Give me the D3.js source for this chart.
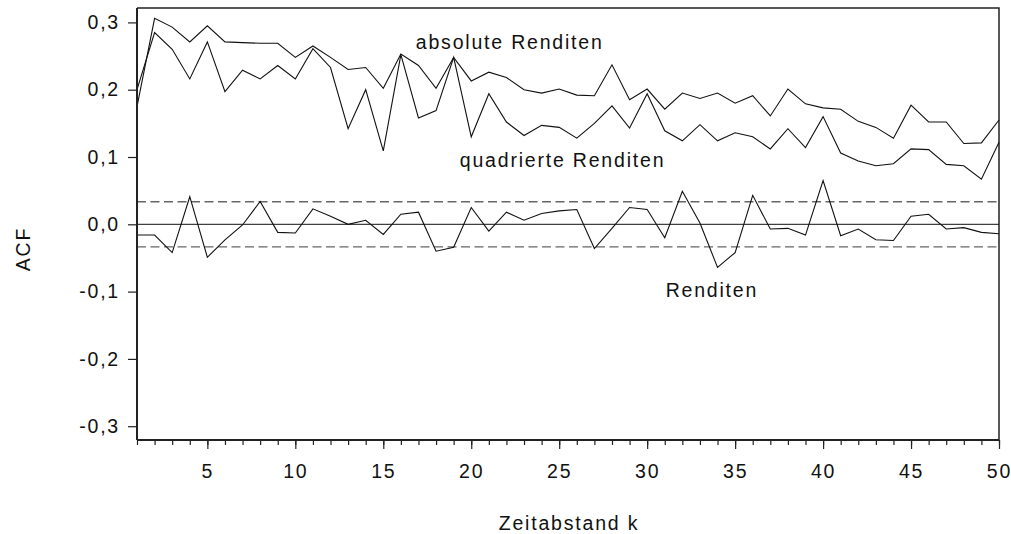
<!DOCTYPE html>
<html>
<head>
<meta charset="utf-8">
<style>
  body { margin: 0; background: #fff; }
  svg text { font-family: "Liberation Sans", Arial, sans-serif; font-size: 19.5px; letter-spacing: 1.8px; fill: #111; }
</style>
<title>ACF</title>
</head>
<body>
<script src="https://cdn.jsdelivr.net/npm/d3@7"></script>
<script>

var lags = [1,2,3,4,5,6,7,8,9,10,11,12,13,14,15,16,17,18,19,20,21,22,23,24,25,
            26,27,28,29,30,31,32,33,34,35,36,37,38,39,40,41,42,43,44,45,46,47,48,49,50];

var absRenditen = [0.175,0.306,0.293,0.271,0.295,0.271,0.270,0.269,0.269,0.248,
                   0.265,0.248,0.230,0.233,0.202,0.253,0.236,0.202,0.248,0.213,
                   0.226,0.218,0.200,0.195,0.201,0.192,0.191,0.237,0.185,0.201,
                   0.171,0.195,0.187,0.195,0.180,0.191,0.161,0.201,0.179,0.173,
                   0.171,0.153,0.144,0.128,0.177,0.152,0.152,0.120,0.121,0.155];

var quadRenditen = [0.200,0.285,0.260,0.216,0.271,0.197,0.229,0.216,0.236,0.216,
                    0.261,0.233,0.142,0.200,0.109,0.252,0.158,0.169,0.248,0.130,
                    0.194,0.152,0.132,0.147,0.144,0.128,0.150,0.176,0.143,0.194,
                    0.139,0.124,0.148,0.124,0.136,0.130,0.112,0.142,0.114,0.160,
                    0.106,0.094,0.087,0.090,0.112,0.111,0.089,0.087,0.067,0.122];

var renditen = [-0.016,-0.016,-0.042,0.041,-0.049,-0.023,-0.001,0.034,-0.012,-0.013,
                0.023,0.012,0.000,0.006,-0.015,0.015,0.018,-0.040,-0.034,0.025,
                -0.010,0.018,0.006,0.016,0.020,0.022,-0.036,-0.006,0.025,0.022,
                -0.020,0.049,0.002,-0.064,-0.042,0.043,-0.007,-0.006,-0.016,0.065,
                -0.017,-0.007,-0.023,-0.024,0.012,0.015,-0.007,-0.005,-0.012,-0.014];

var confBand = 0.0335;
var yTicks = [-0.3,-0.2,-0.1,0,0.1,0.2,0.3];
var xMajor = [5,10,15,20,25,30,35,40,45,50];

var W = 1011, H = 534;
var margin = {top: 8, right: 12, bottom: 94, left: 137};
var width = W - margin.left - margin.right;
var height = H - margin.top - margin.bottom;

var svg = d3.select("body").append("svg")
  .attr("width", W).attr("height", H);
var g = svg.append("g")
  .attr("transform", "translate(" + margin.left + "," + margin.top + ")");

var x = d3.scaleLinear().domain([1, 50]).range([0, width]);
var y = d3.scaleLinear().domain([-0.3205, 0.3214]).range([height, 0]);

var de = d3.formatLocale({decimal: ",", thousands: ".", grouping: [3], currency: ["", " €"], minus: "-"});
var fmt = de.format(".1f");

// frame top / right
g.append("path")
  .attr("d", "M0,0H" + width + "V" + height)
  .attr("fill", "none").attr("stroke", "#222").attr("stroke-width", 1.5);

// confidence band and zero line
g.selectAll(".band").data([confBand, -confBand]).enter().append("line")
  .attr("x1", 0).attr("x2", width)
  .attr("y1", function(d){ return y(d); }).attr("y2", function(d){ return y(d); })
  .attr("stroke", "#666").attr("stroke-width", 1.3).attr("stroke-dasharray", "9,4.5");
g.append("line")
  .attr("x1", 0).attr("x2", width).attr("y1", y(0)).attr("y2", y(0))
  .attr("stroke", "#111").attr("stroke-width", 1);

var line = d3.line()
  .x(function(d, i){ return x(lags[i]); })
  .y(function(d){ return y(d); });

[absRenditen, quadRenditen, renditen].forEach(function(s){
  g.append("path").datum(s)
    .attr("d", line)
    .attr("fill", "none").attr("stroke", "#111").attr("stroke-width", 1.1);
});

// axes
var yAxis = g.append("g")
  .call(d3.axisLeft(y).tickValues(yTicks).tickFormat(fmt).tickSize(9).tickPadding(8));
var xAxisMinor = g.append("g").attr("transform", "translate(0," + height + ")")
  .call(d3.axisBottom(x).tickValues(lags).tickFormat("").tickSize(5));
var xAxis = g.append("g").attr("transform", "translate(0," + height + ")")
  .call(d3.axisBottom(x).tickValues(xMajor).tickFormat(d3.format("d")).tickSize(9).tickPadding(15));

[yAxis, xAxisMinor, xAxis].forEach(function(a){
  a.select(".domain").attr("stroke", "#222").attr("stroke-width", 2);
  a.selectAll(".tick line").attr("stroke", "#222").attr("stroke-width", 1.2);
  a.selectAll("text").attr("font-size", null).attr("font-family", null).attr("fill", "#111");
});
xAxisMinor.select(".domain").attr("d", "M0,0H" + width);
xAxis.select(".domain").attr("d", "M0,0H" + width);
yAxis.select(".domain").attr("d", "M0,0V" + height);

// series labels
var labels = [
  {t: "absolute Renditen", k: 16.85, v: 0.2604},
  {t: "quadrierte Renditen", k: 19.35, v: 0.0855},
  {t: "Renditen", k: 31.05, v: -0.1077}
];
g.selectAll(".lab").data(labels).enter().append("text")
  .attr("x", function(d){ return x(d.k); })
  .attr("y", function(d){ return y(d.v); })
  .text(function(d){ return d.t; });

// axis titles
svg.append("text")
  .attr("x", 569).attr("y", 530).attr("text-anchor", "middle")
  .text("Zeitabstand k");
svg.append("text")
  .attr("transform", "translate(30,249) rotate(-90)")
  .attr("text-anchor", "middle")
  .text("ACF");

</script>
</body>
</html>
